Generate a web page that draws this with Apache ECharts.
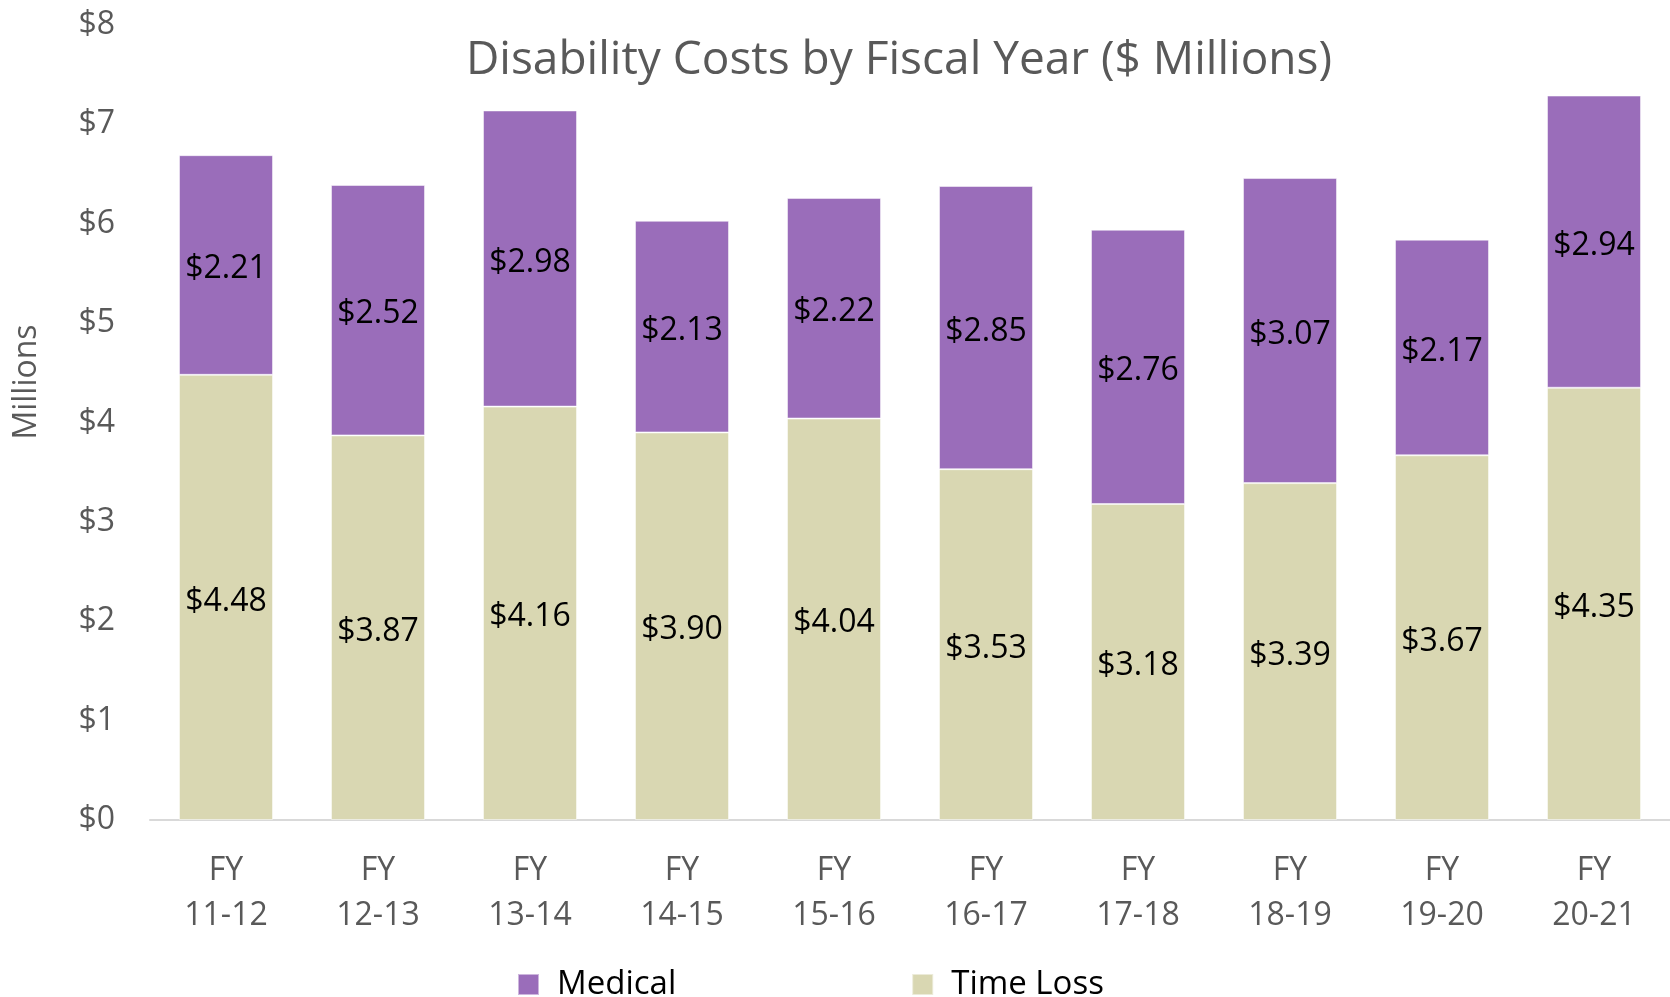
<!DOCTYPE html>
<html>
<head>
<meta charset="utf-8">
<title>Disability Costs</title>
<script src="https://cdn.jsdelivr.net/npm/echarts@6/dist/echarts.min.js"></script>
<style>
  html, body { margin: 0; padding: 0; background: #fff; }
  #chart { width: 1670px; height: 997px; }
</style>
</head>
<body>
<div id="chart"></div>
<script>
// fiscal years on the x axis
const years = ["FY\n11-12", "FY\n12-13", "FY\n13-14", "FY\n14-15", "FY\n15-16",
               "FY\n16-17", "FY\n17-18", "FY\n18-19", "FY\n19-20", "FY\n20-21"];
// $ millions
const timeLoss = [4.48, 3.87, 4.16, 3.90, 4.04, 3.53, 3.18, 3.39, 3.67, 4.35];
const medical = [2.21, 2.52, 2.98, 2.13, 2.22, 2.85, 2.76, 3.07, 2.17, 2.94];
const yTicks = [0, 1, 2, 3, 4, 5, 6, 7, 8];

const font = "'Open Sans', 'DejaVu Sans', sans-serif";
const grey = "#595959";

const myChart = echarts.init(document.getElementById("chart"));

const valueLabel = {
  show: true,
  position: "inside",
  offset: [0, 4],
  color: "#000",
  fontFamily: font,
  fontSize: 32,
  formatter: (p) => "$" + p.value.toFixed(2),
};

const option = {
  animation: false,
  textStyle: { fontFamily: font },
  title: {
    text: "Disability Costs by Fiscal Year ($ Millions)",
    left: 894,
    textAlign: "center",
    top: 33,
    textStyle: { color: grey, fontSize: 46, fontWeight: "normal", fontFamily: font },
  },
  legend: {
    left: 512,
    top: 963,
    itemWidth: 21,
    itemHeight: 21,
    itemGap: 235,
    icon: "rect",
    data: ["Medical", "Time Loss"],
    textStyle: { color: "#000", fontSize: 33, fontFamily: font, padding: [0, 0, 0, 13] },
  },
  grid: { left: 150, right: 0, top: 25, bottom: 177 },
  xAxis: {
    type: "category",
    data: years,
    axisLine: { lineStyle: { color: "#d9d9d9", width: 2 } },
    axisTick: { show: false },
    axisLabel: { color: grey, fontSize: 32, lineHeight: 45, margin: 28, fontFamily: font },
  },
  yAxis: {
    type: "value",
    min: yTicks[0],
    max: yTicks[yTicks.length - 1],
    interval: 1,
    splitLine: { show: false },
    axisLine: { show: false },
    axisTick: { show: false },
    axisLabel: { color: grey, fontSize: 32, margin: 35, fontFamily: font, formatter: (v) => "$" + v },
  },
  graphic: [{
    type: "text",
    x: 27,
    y: 382,
    rotation: Math.PI / 2,
    style: {
      text: "Millions",
      fill: grey,
      font: "32px " + font,
      textAlign: "center",
      textVerticalAlign: "middle",
    },
  }],
  series: [
    {
      name: "Time Loss",
      type: "bar",
      stack: "total",
      barWidth: 94,
      itemStyle: { color: "#d9d7b2", borderColor: "rgba(255,255,255,0.5)", borderWidth: 1 },
      label: valueLabel,
      data: timeLoss,
    },
    {
      name: "Medical",
      type: "bar",
      stack: "total",
      barWidth: 94,
      itemStyle: { color: "#9a6dba", borderColor: "rgba(255,255,255,0.5)", borderWidth: 1 },
      label: valueLabel,
      data: medical,
    },
  ],
};
myChart.setOption(option);
</script>
</body>
</html>
